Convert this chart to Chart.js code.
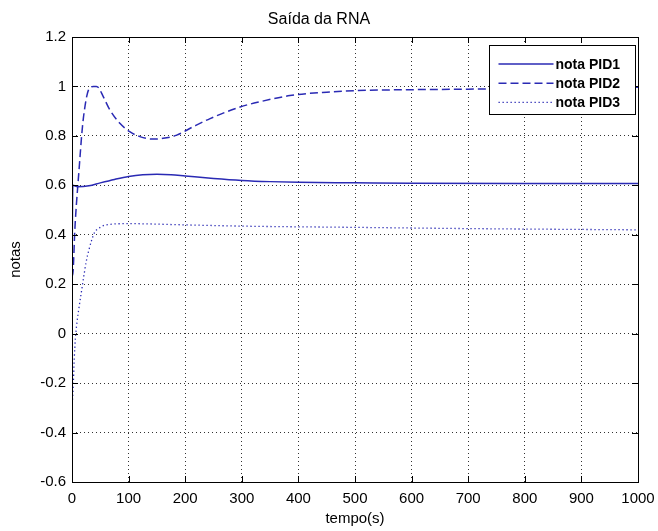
<!DOCTYPE html>
<html>
<head>
<meta charset="utf-8">
<title>Saída da RNA</title>
<script src="https://cdn.jsdelivr.net/npm/chart.js@4/dist/chart.umd.min.js"></script>
<style>
    html, body { margin: 0; padding: 0; background: #fff; }
    #wrap { width: 658px; height: 531px; }
</style>
</head>
<body>
<div id="wrap"><canvas id="rnaChart" width="658" height="531"></canvas></div>
<script>
// Values
const tempoPID1 = [0, 1.5, 10, 30, 50, 75, 100, 125, 150, 175, 200, 250, 300, 350, 400, 500, 600, 800, 1000];
const notaPID1 = [0.25, 0.6, 0.594, 0.598, 0.61, 0.624, 0.636, 0.643, 0.645, 0.643, 0.638, 0.628, 0.62, 0.615, 0.612, 0.61, 0.608, 0.607, 0.607];

const tempoPID2 = [0, 2, 5, 8, 11, 14, 17, 20, 23, 26, 29, 34, 38, 43, 47, 55, 67, 85, 102, 120, 143, 161, 185, 214, 244, 297, 332, 385, 450, 500, 600, 700, 800, 900, 1000];
const notaPID2 = [0.23, 0.255, 0.42, 0.53, 0.62, 0.71, 0.8, 0.87, 0.92, 0.96, 0.985, 0.998, 1.0, 1.0, 0.995, 0.96, 0.905, 0.85, 0.817, 0.797, 0.787, 0.79, 0.803, 0.837, 0.87, 0.917, 0.938, 0.963, 0.977, 0.983, 0.987, 0.989, 0.992, 0.995, 0.997];

const tempoPID3 = [0, 2, 4, 6, 9, 12, 16, 20, 25, 30, 35, 40, 50, 60, 100, 200, 300, 500, 700, 1000];
const notaPID3 = [-0.3, -0.22, -0.1, -0.02, 0.05, 0.1, 0.16, 0.22, 0.29, 0.34, 0.38, 0.41, 0.43, 0.44, 0.445, 0.44, 0.435, 0.43, 0.425, 0.42];

const seriesNames = ['nota PID1', 'nota PID2', 'nota PID3'];
const xTicks = [0, 100, 200, 300, 400, 500, 600, 700, 800, 900, 1000];
const yTicks = [-0.6, -0.4, -0.2, 0, 0.2, 0.4, 0.6, 0.8, 1, 1.2];

const LINE_COLOR = '#2a2ab4';
const FONT = '"Liberation Sans", Arial, sans-serif';

function toPoints(xs, ys) {
    return xs.map((x, i) => ({ x: x, y: ys[i] }));
}

// Box around the plot with MATLAB style ticks pointing inwards
const boxPlugin = {
    id: 'matlabBox',
    afterDatasetsDraw(chart) {
        const { ctx, chartArea: a, scales } = chart;
        const len = 6;
        ctx.save();
        ctx.strokeStyle = '#000';
        ctx.lineWidth = 1;
        ctx.beginPath();
        xTicks.forEach(v => {
            const px = Math.round(scales.x.getPixelForValue(v)) + 0.5;
            ctx.moveTo(px, a.bottom); ctx.lineTo(px, a.bottom - len);
            ctx.moveTo(px, a.top); ctx.lineTo(px, a.top + len);
        });
        yTicks.forEach(v => {
            const py = Math.round(scales.y.getPixelForValue(v)) + 0.5;
            ctx.moveTo(a.left, py); ctx.lineTo(a.left + len, py);
            ctx.moveTo(a.right, py); ctx.lineTo(a.right - len, py);
        });
        ctx.stroke();
        ctx.strokeRect(Math.round(a.left) + 0.5, Math.round(a.top) + 0.5,
            Math.round(a.width), Math.round(a.height));

        // legend box, top right inside the plot
        const w = 146, h = 69;
        const bx = Math.round(a.right) - 3 - w + 0.5;
        const by = Math.round(a.top) + 8 + 0.5;
        ctx.fillStyle = '#fff';
        ctx.fillRect(bx, by, w, h);
        ctx.strokeRect(bx, by, w, h);
        ctx.font = 'bold 14px ' + FONT;
        ctx.textBaseline = 'middle';
        chart.data.datasets.forEach((ds, i) => {
            const ly = by + 18.5 + i * 19.2;
            ctx.save();
            ctx.strokeStyle = ds.borderColor;
            ctx.lineWidth = ds.borderWidth;
            ctx.setLineDash(ds.borderDash || []);
            ctx.beginPath();
            ctx.moveTo(bx + 9, ly);
            ctx.lineTo(bx + 64, ly);
            ctx.stroke();
            ctx.restore();
            ctx.fillStyle = '#000';
            ctx.fillText(ds.label, bx + 66, ly + 1);
        });
        ctx.restore();
    }
};

const ctx = document.getElementById('rnaChart').getContext('2d');
new Chart(ctx, {
    type: 'line',
    data: {
        datasets: [
            {
                label: seriesNames[0],
                data: toPoints(tempoPID1, notaPID1),
                borderColor: LINE_COLOR,
                borderWidth: 1.5,
                cubicInterpolationMode: 'monotone'
            },
            {
                label: seriesNames[1],
                data: toPoints(tempoPID2, notaPID2),
                borderColor: LINE_COLOR,
                borderWidth: 1.5,
                borderDash: [8, 4],
                cubicInterpolationMode: 'monotone'
            },
            {
                label: seriesNames[2],
                data: toPoints(tempoPID3, notaPID3),
                borderColor: LINE_COLOR,
                borderWidth: 1.3,
                borderDash: [1.3, 2.7],
                cubicInterpolationMode: 'monotone'
            }
        ]
    },
    options: {
        responsive: false,
        animation: false,
        events: [],
        elements: {
            point: { radius: 0 },
            line: { fill: false }
        },
        layout: {
            padding: { left: 0, right: 20, top: 0, bottom: 0 }
        },
        plugins: {
            legend: { display: false },
            tooltip: { enabled: false },
            title: {
                display: true,
                text: 'Saída da RNA',
                color: '#000',
                font: { family: FONT, size: 16, weight: 'normal', lineHeight: 1.2 },
                padding: { top: 10, bottom: 7.8 }
            }
        },
        scales: {
            x: {
                type: 'linear',
                min: 0,
                max: 1000,
                afterFit: scale => {
                    scale.height = 49;
                    scale.paddingLeft = 0;
                    scale.paddingRight = 0;
                },
                afterBuildTicks: scale => { scale.ticks = xTicks.map(v => ({ value: v })); },
                ticks: {
                    color: '#000',
                    padding: 8,
                    maxRotation: 0,
                    font: { family: FONT, size: 15 },
                    callback: v => String(v)
                },
                grid: {
                    color: 'rgba(0,0,0,0.8)',
                    lineWidth: 1,
                    drawTicks: false
                },
                border: { display: false, dash: [1, 3] },
                title: {
                    display: true,
                    text: 'tempo(s)',
                    color: '#000',
                    font: { family: FONT, size: 15 },
                    padding: { top: 0, bottom: 3 }
                }
            },
            y: {
                type: 'linear',
                min: -0.6,
                max: 1.2,
                afterFit: scale => {
                    scale.width = 72;
                    scale.paddingTop = 0;
                    scale.paddingBottom = 0;
                },
                afterBuildTicks: scale => { scale.ticks = yTicks.map(v => ({ value: v })); },
                ticks: {
                    color: '#000',
                    padding: 6,
                    font: { family: FONT, size: 15 },
                    callback: v => String(parseFloat(Number(v).toFixed(1)))
                },
                grid: {
                    color: 'rgba(0,0,0,0.8)',
                    lineWidth: 1,
                    drawTicks: false
                },
                border: { display: false, dash: [1, 3] },
                title: {
                    display: true,
                    text: 'notas',
                    color: '#000',
                    font: { family: FONT, size: 15 },
                    padding: { top: 7, bottom: 0 }
                }
            }
        }
    },
    plugins: [boxPlugin]
});
</script>
</body>
</html>
